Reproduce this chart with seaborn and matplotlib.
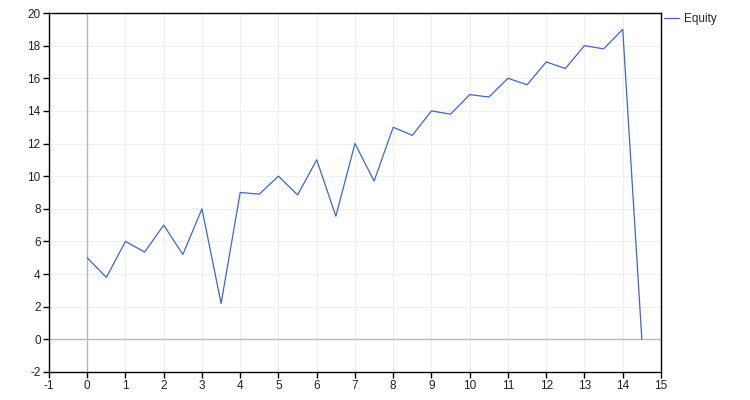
import seaborn as sns
import matplotlib.pyplot as plt
import pandas as pd

# equity curve
steps = [0, 0.5, 1, 1.5, 2, 2.5, 3, 3.5, 4, 4.5, 5, 5.5, 6, 6.5, 7, 7.5,
         8, 8.5, 9, 9.5, 10, 10.5, 11, 11.5, 12, 12.5, 13, 13.5, 14, 14.5]
equity = [5.0, 3.8, 6.0, 5.35, 7.0, 5.2, 8.0, 2.2, 9.0, 8.9, 10.0, 8.85, 11.0, 7.55, 12.0, 9.7,
          13.0, 12.5, 14.0, 13.8, 15.0, 14.85, 16.0, 15.6, 17.0, 16.6, 18.0, 17.8, 19.0, 0.0]
x_ticks = list(range(-1, 16))
y_ticks = list(range(-2, 21, 2))

df = pd.DataFrame({'step': steps, 'Equity': equity})

sns.set_style('white')
plt.rcParams['font.family'] = ['Liberation Sans', 'DejaVu Sans']
plt.rcParams['axes.unicode_minus'] = False

fig = plt.figure(figsize=(7.5, 4), dpi=100)
ax = fig.add_axes([0.0653, 0.07, 0.816, 0.8975])

for v in x_ticks:
    ax.axvline(v, color='#efefef', lw=0.8, zorder=0)
for v in y_ticks:
    ax.axhline(v, color='#efefef', lw=0.8, zorder=0)
ax.axvline(0, color='#b8b8b8', lw=1, zorder=1)
ax.axhline(0, color='#b8b8b8', lw=1, zorder=1)

sns.lineplot(data=df, x='step', y='Equity', ax=ax, color='#3a66d4', lw=0.9,
             label='Equity', zorder=3)

ax.set_xlim(-1, 15)
ax.set_ylim(-2, 20)
ax.set_xticks(x_ticks)
ax.set_yticks(y_ticks)
ax.set_xlabel('')
ax.set_ylabel('')
ax.tick_params(axis='both', direction='out', length=4, width=1, color='black',
               labelsize=8.5, labelcolor='#222222', pad=2,
               bottom=True, left=True)
for s in ax.spines.values():
    s.set_color('black')
    s.set_linewidth(1)

ax.legend(loc='center left', bbox_to_anchor=(664 / 750, 1 - 19 / 400),
          bbox_transform=fig.transFigure, frameon=False,
          fontsize=8.5, handlelength=1.3, handletextpad=0.4, borderaxespad=0.0,
          borderpad=0.0)

fig.savefig('out.png', dpi=100)
